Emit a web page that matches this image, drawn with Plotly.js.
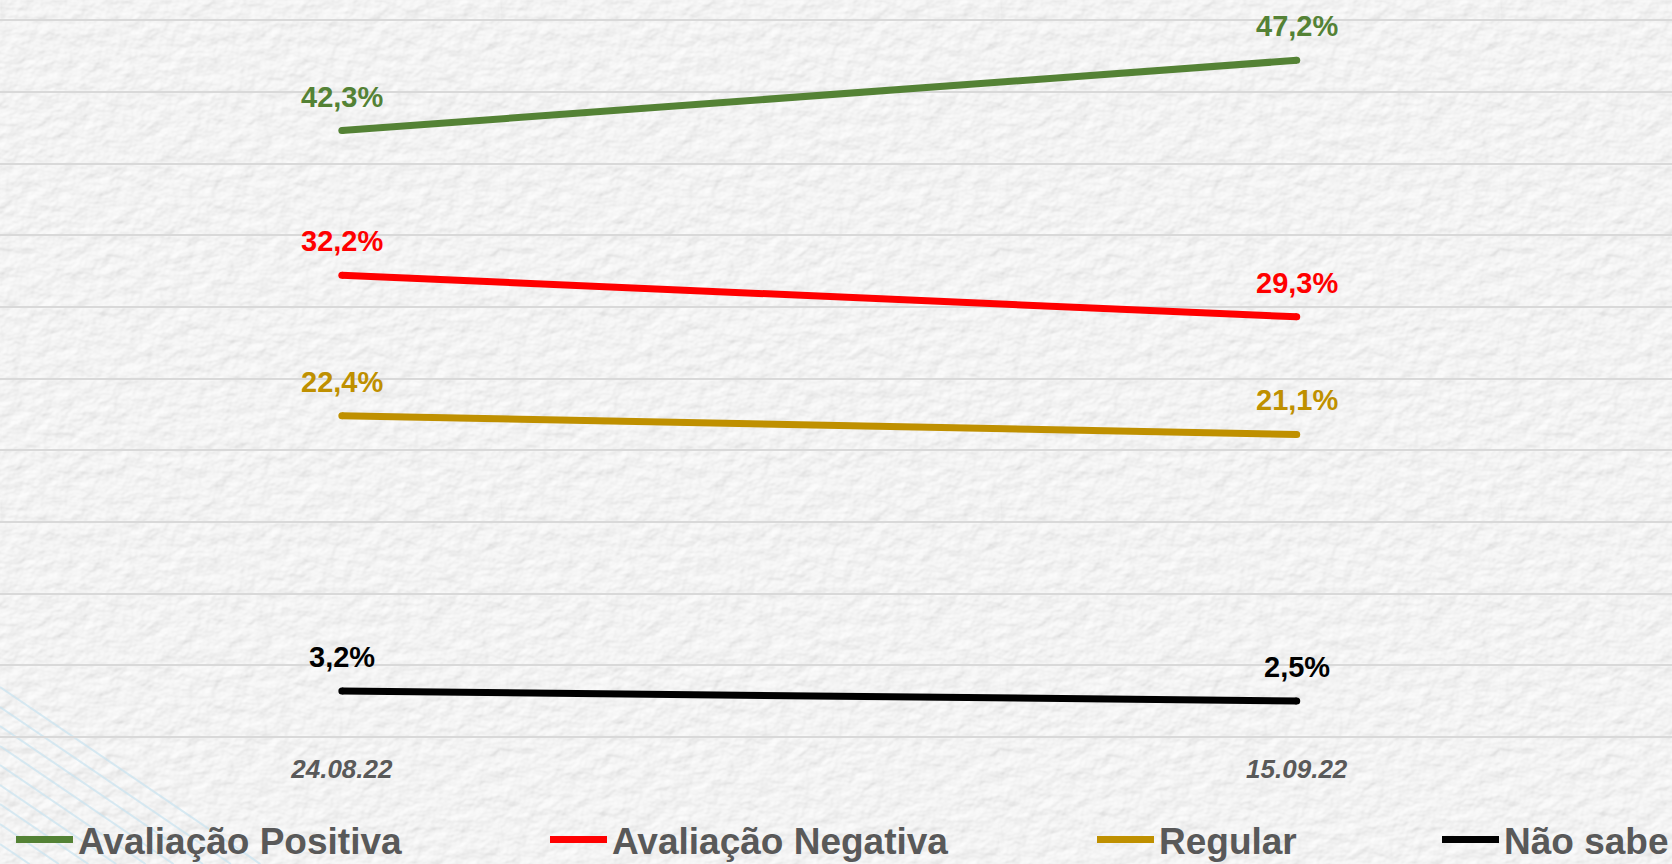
<!DOCTYPE html>
<html>
<head>
<meta charset="utf-8">
<script src="https://cdn.plot.ly/plotly-3.0.1.min.js"></script>
<style>
  html, body { margin: 0; padding: 0; width: 1672px; height: 864px; overflow: hidden; }
  body {
    background-color: #f0f0f0;
    background-image: url("data:image/svg+xml;utf8,<svg xmlns='http://www.w3.org/2000/svg' width='500' height='500'><filter id='f' x='0' y='0' width='100%' height='100%'><feTurbulence type='fractalNoise' baseFrequency='0.06 0.075' numOctaves='3' seed='11' stitchTiles='stitch'/><feDiffuseLighting lighting-color='%23f5f5f5' surfaceScale='1.3' diffuseConstant='1.08'><feDistantLight azimuth='235' elevation='65'/></feDiffuseLighting></filter><rect width='500' height='500' filter='url(%23f)'/></svg>");
    background-size: 500px 500px;
  }
  #chart { width: 1672px; height: 864px; }
</style>
</head>
<body>
<div id="chart"></div>
<script>
// ---- data ----
const dates = ["24.08.22", "15.09.22"];
const seriesNames = ["Avaliação Positiva", "Avaliação Negativa", "Regular", "Não sabe"];
const positiva = [42.3, 47.2];
const negativa = [32.2, 29.3];
const regular = [22.4, 21.1];
const naoSabe = [3.2, 2.5];

const seriesValues = [positiva, negativa, regular, naoSabe];
const colors = ["#548235", "#FF0000", "#BF9000", "#000000"];
const legendIds = ["legend", "legend2", "legend3", "legend4"];
const legendLineStart = [16, 550, 1097, 1442]; // px where legend line begins
const W = 1672, H = 864;
const fontFam = "Arial, 'Liberation Sans', Helvetica, sans-serif";

function fmt(v) { return v.toFixed(1).replace('.', ',') + '%'; }

const traces = seriesValues.map((vals, i) => ({
  type: 'scatter',
  mode: 'lines+markers',
  x: dates,
  y: vals,
  name: seriesNames[i],
  legend: legendIds[i],
  line: { color: colors[i], width: 7 },
  marker: { color: colors[i], size: 7 },
  hoverinfo: 'skip'
}));

const annotations = [];
seriesValues.forEach((vals, i) => {
  vals.forEach((v, j) => {
    annotations.push({
      x: dates[j], y: v, xref: 'x', yref: 'y',
      text: fmt(v), showarrow: false,
      yshift: 34,
      font: { family: fontFam, size: 29, color: colors[i], weight: 'bold' }
    });
  });
});

// decorative faint diagonal lines bottom-left
const plotTop = 13, plotH = 731;
const shapes = [];
const starts = [687, 707, 726, 746, 765, 785, 804, 824, 844, 864];
starts.forEach(y0 => {
  const slope = 0.68;
  const x1 = (H - y0) / slope;
  shapes.push({
    type: 'line', xref: 'paper', yref: 'paper', layer: 'below',
    x0: 0, y0: 1 - (y0 - plotTop) / plotH,
    x1: x1 / W, y1: 1 - (H - plotTop) / plotH,
    line: { color: 'rgba(200,226,240,0.7)', width: 2 }
  });
});

const layout = {
  width: W, height: H,
  margin: { l: 0, r: 0, t: plotTop, b: H - plotTop - plotH },
  paper_bgcolor: 'rgba(0,0,0,0)',
  plot_bgcolor: 'rgba(0,0,0,0)',
  showlegend: true,
  xaxis: {
    type: 'category',
    range: [-0.358, 1.393],
    showgrid: false, zeroline: false, showline: false,
    ticks: '',
    ticklabelstandoff: 7,
    tickfont: { family: fontFam, size: 26, color: '#595959', weight: 'bold', style: 'italic' },
    fixedrange: true
  },
  yaxis: {
    range: [-0.5, 50.5],
    dtick: 5, tick0: 0,
    showticklabels: false,
    showgrid: true, gridcolor: '#d9d9d9', gridwidth: 2,
    zeroline: false, showline: false, ticks: '',
    fixedrange: true
  },
  annotations: annotations,
  shapes: shapes,
  hovermode: false
};

legendIds.forEach((id, i) => {
  layout[id] = {
    xref: 'container', yref: 'container',
    x: (legendLineStart[i] - 5) / W, xanchor: 'left',
    y: 1 - 840 / H, yanchor: 'middle',
    orientation: 'h',
    bgcolor: 'rgba(0,0,0,0)', borderwidth: 0,
    itemwidth: 57,
    font: { family: fontFam, size: 37, color: '#595959', weight: 'bold' },
    itemclick: false, itemdoubleclick: false
  };
});

Plotly.newPlot('chart', traces, layout, { staticPlot: true, displayModeBar: false });
</script>
</body>
</html>
